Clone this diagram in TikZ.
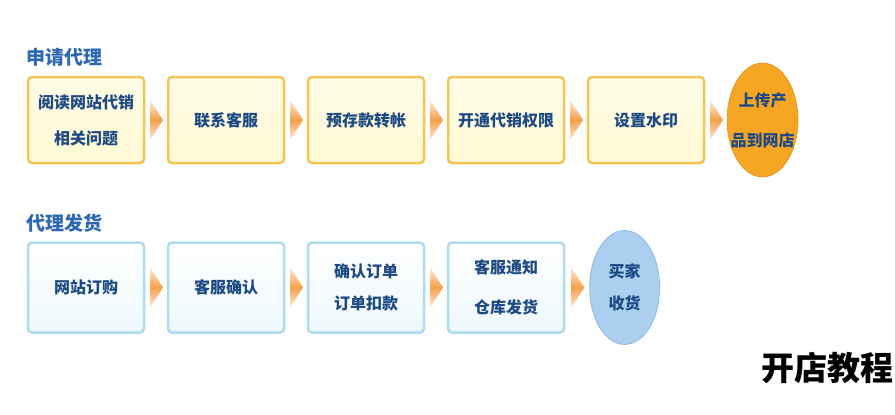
\documentclass[tikz,border=0pt]{standalone}
\usepackage{fontspec}
\setmainfont{Noto Sans CJK SC}
\usetikzlibrary{positioning, shapes.geometric}
\definecolor{headblue}{RGB}{46,104,178}
\definecolor{inkblue}{RGB}{30,74,132}
\definecolor{cream}{RGB}{255,250,212}
\definecolor{gold}{RGB}{243,196,88}
\definecolor{ice}{RGB}{238,249,253}
\definecolor{frost}{RGB}{176,219,239}
\definecolor{tangerine}{RGB}{246,166,35}
\definecolor{sky}{RGB}{172,207,240}
\definecolor{skyline}{RGB}{140,185,228}
\definecolor{peach}{RGB}{245,160,74}
\tikzset{
  heading/.style={font=\fontsize{19}{19}\selectfont\bfseries, text=headblue, inner sep=0pt},
  applybox/.style={rectangle, rounded corners=4pt, minimum width=116pt, minimum height=86pt, align=center, draw=gold, line width=2.5pt, top color=cream!55, bottom color=cream, text=inkblue, font=\fontsize{16}{36}\selectfont\bfseries},
  shipbox/.style={rectangle, rounded corners=4pt, minimum width=116pt, minimum height=90pt, align=center, draw=frost, line width=2.5pt, top color=white, bottom color=ice, text=inkblue, font=\fontsize{16}{36}\selectfont\bfseries},
  applyend/.style={ellipse, minimum width=71pt, minimum height=114pt, inner xsep=-7pt, inner ysep=0pt, align=center, fill=tangerine, draw=tangerine!90!black, line width=0.6pt, text=inkblue, font=\fontsize{16}{40}\selectfont\bfseries},
  shipend/.style={ellipse, minimum width=70pt, minimum height=114pt, inner sep=0pt, align=center, fill=sky, draw=skyline, line width=0.8pt, text=inkblue, font=\fontsize{16}{32}\selectfont\bfseries},
  chev/.style={isosceles triangle, isosceles triangle stretches, minimum width=40pt, minimum height=13pt, inner sep=0pt, outer sep=0pt, top color=peach!20, bottom color=peach!20, middle color=peach}
}
\begin{document}
\begin{tikzpicture}[x=1pt, y=-1pt, node distance=21.5pt]
    \useasboundingbox (0,0) rectangle (895,415);

    % apply for agency
    \node (a1) [applybox] at (86,120) {阅读网站代销\\相关问题};
    \node (a2) [applybox, right=of a1] {联系客服};
    \node (a3) [applybox, right=of a2] {预存款转帐};
    \node (a4) [applybox, right=of a3] {开通代销权限};
    \node (a5) [applybox, right=of a4] {设置水印};
    \node (a6) [applyend, right=of a5] {上传产\\品到网店};
    \node (t1) [heading, above right=9pt and 0pt of a1.north west] {申请代理};

    % agency shipping
    \node (b1) [shipbox, below=77pt of a1] {网站订购};
    \node (b2) [shipbox, right=of b1] {客服确认};
    \node (b3) [shipbox, right=of b2, font=\fontsize{16}{32}\selectfont\bfseries] {确认订单\\订单扣款};
    \node (b4) [shipbox, right=of b3, font=\fontsize{16}{40}\selectfont\bfseries] {客服通知\\仓库发货};
    \node (b5) [shipend, right=24pt of b4] {买家\\收货};
    \node (t2) [heading, above right=9pt and 0pt of b1.north west] {代理发货};

    \node (tag) [anchor=east, inner sep=0pt, font=\fontsize{33}{33}\selectfont\bfseries] at (894,368) {开店教程};

    \path (a1) -- node[chev] {} (a2);
    \path (a2) -- node[chev] {} (a3);
    \path (a3) -- node[chev] {} (a4);
    \path (a4) -- node[chev] {} (a5);
    \path (a5) -- node[chev] {} (a6);
    \path (b1) -- node[chev] {} (b2);
    \path (b2) -- node[chev] {} (b3);
    \path (b3) -- node[chev] {} (b4);
    \path (b4) -- node[chev] {} (b5);
\end{tikzpicture}
\end{document}
